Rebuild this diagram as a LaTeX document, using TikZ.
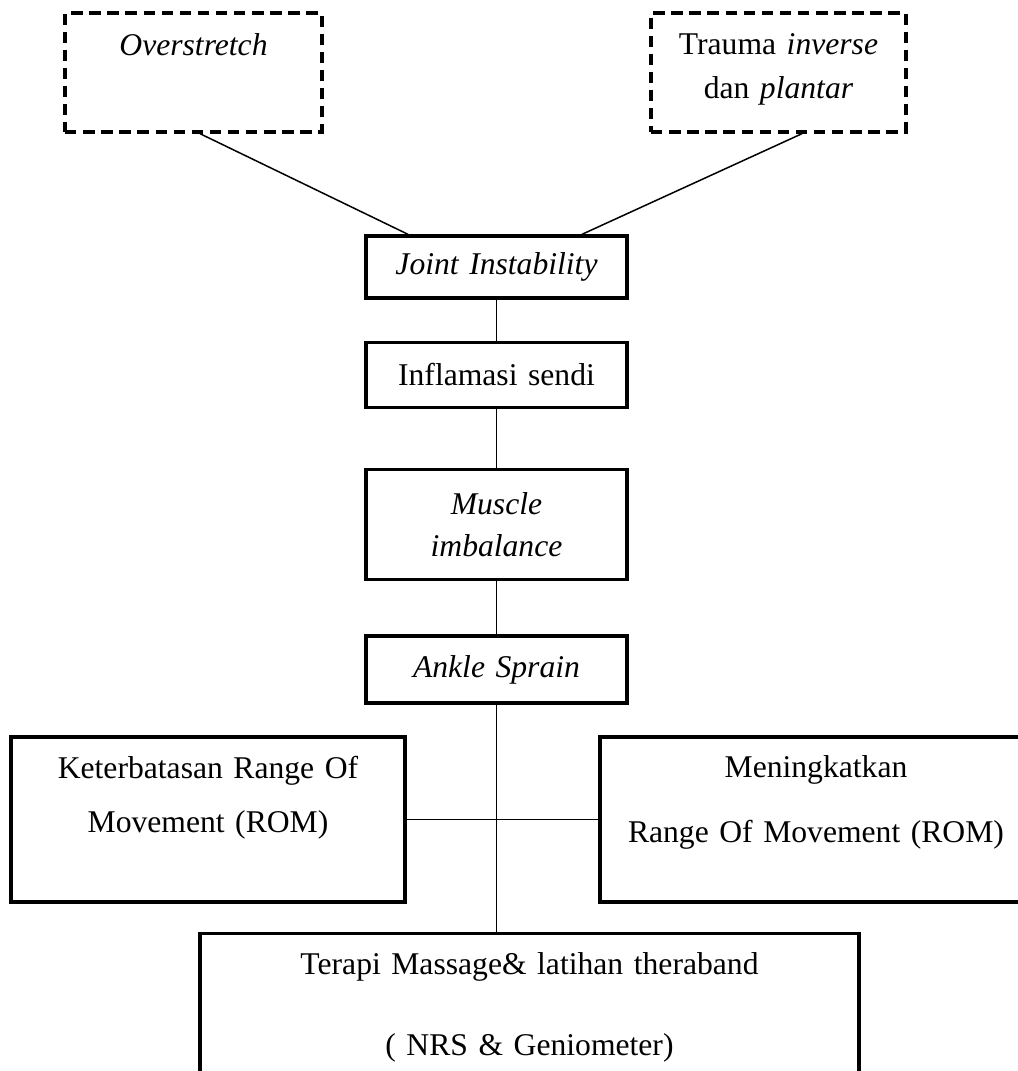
\documentclass[tikz,border=0pt]{standalone}
\usepackage{fontspec}
\setmainfont{Liberation Serif}
\usepackage{tikz}
\usetikzlibrary{shapes,arrows,calc,positioning}
\tikzstyle{block} = [rectangle, draw, line width=1.9pt, align=center, inner sep=0pt]
\tikzstyle{dashblock} = [block, dash pattern=on 6.5pt off 3.8pt]
\tikzstyle{line} = [draw, line width=0.85pt]

\begin{document}
\begin{tikzpicture}[font=\fontsize{18}{25}\selectfont]
\useasboundingbox (0,0) rectangle (20.34,-21.42);

\node [dashblock, text width=5.14cm, minimum height=2.38cm] (over) at (3.87,-1.45) {\textit{Overstretch}\\[7pt] \mbox{}};
\node [dashblock, text width=5.10cm, minimum height=2.38cm] (trauma) at (15.57,-1.45) {Trauma \textit{inverse}\\ dan \textit{plantar}\\[-18pt] \mbox{}};
\node [block, text width=5.22cm, minimum height=1.24cm] (joint) at (9.93,-5.34) {\textit{Joint Instability}};
\node [block, text width=5.22cm, minimum height=1.30cm, below = 0.82cm of joint] (inflam) {Inflamasi sendi};
\node [block, text width=5.22cm, minimum height=2.20cm, below = 1.18cm of inflam] (muscle) {\textit{Muscle}\\[-1.2pt] \textit{imbalance}};
\node [block, text width=5.22cm, minimum height=1.34cm, below = 1.06cm of muscle] (ankle) {\textit{Ankle Sprain}};
\node [block, text width=7.88cm, minimum height=3.30cm] (keter) at (4.16,-16.39) {Keterbatasan Range Of\\[5.6pt] Movement (ROM)\\[4pt] \mbox{}};
\node [block, text width=8.64cm, minimum height=3.30cm] (mening) at (16.32,-16.39) {Meningkatkan\\[12pt] Range Of Movement (ROM)\\[-2pt] \mbox{}};
\node [block, text width=13.18cm, minimum height=4cm, anchor=north] (terapi) at (10.59,-18.64) {Terapi Massage\& latihan theraband\\[21pt] ( NRS \& Geniometer)\\[9pt] \mbox{}};

\path [line] ($(over.south)+(0.13,0)$) -- ($(joint.north)+(-1.77,0)$);
\path [line] ($(trauma.south)+(0.47,0)$) -- ($(joint.north)+(1.71,0)$);
\path [line] (joint) -- (inflam);
\path [line] (inflam) -- (muscle);
\path [line] (muscle) -- (ankle);
\path [line] (ankle.south) -- (ankle.south |- terapi.north);
\path [line] (keter.east) -- (mening.west);
\end{tikzpicture}
\end{document}
